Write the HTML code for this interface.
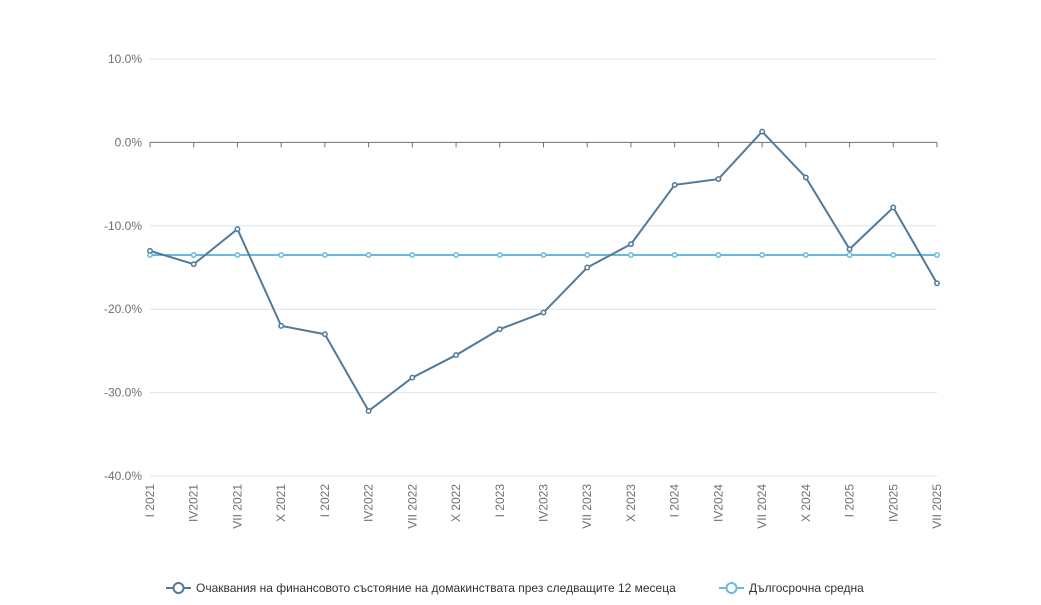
<!DOCTYPE html>
<html><head><meta charset="utf-8"><style>
body{margin:0;background:#fff;font-family:"Liberation Sans",sans-serif}
</style></head><body>
<svg id="chart" width="1041" height="600" xmlns="http://www.w3.org/2000/svg" font-family="Liberation Sans, sans-serif"></svg>
<script>
const categories=["I 2021","IV2021","VII 2021","X 2021","I 2022","IV2022","VII 2022","X 2022","I 2023","IV2023","VII 2023","X 2023","I 2024","IV2024","VII 2024","X 2024","I 2025","IV2025","VII 2025"];
const expectations=[-13.0,-14.6,-10.4,-22.0,-23.0,-32.2,-28.2,-25.5,-22.4,-20.4,-15.0,-12.2,-5.1,-4.4,1.3,-4.2,-12.8,-7.8,-16.9];
const longTermAvg=[-13.5,-13.5,-13.5,-13.5,-13.5,-13.5,-13.5,-13.5,-13.5,-13.5,-13.5,-13.5,-13.5,-13.5,-13.5,-13.5,-13.5,-13.5,-13.5];
const yTicks=[10,0,-10,-20,-30,-40];
const yTickLabels=["10.0%","0.0%","-10.0%","-20.0%","-30.0%","-40.0%"];
const svg=document.getElementById('chart');
const NS='http://www.w3.org/2000/svg';
const x0=150,x1=937,yTop=59,yBot=476,vMax=10,vMin=-40;
function xs(i){return x0+i*(x1-x0)/(categories.length-1);}
function ys(v){return yTop+(vMax-v)*(yBot-yTop)/(vMax-vMin);}
function mk(tag,attrs){const e=document.createElementNS(NS,tag);for(const k in attrs)e.setAttribute(k,attrs[k]);svg.appendChild(e);return e;}
yTicks.forEach((t,i)=>{
  if(t!==0){const g=mk('line',{x1:x0,x2:x1,y1:ys(t),y2:ys(t),stroke:'#e0e3ea','stroke-width':1});
  
  }
  const l=mk('text',{x:142,y:ys(t)+4,'text-anchor':'end','font-size':12,fill:'#6e7079'});
  l.textContent=yTickLabels[i];
  
  
});
const ax=mk('line',{x1:x0,x2:x1,y1:ys(0),y2:ys(0),stroke:'#6e7079','stroke-width':1});


categories.forEach((c,i)=>{
  const tk=mk('line',{x1:xs(i),x2:xs(i),y1:ys(0),y2:ys(0)+5,stroke:'#6e7079'});
  
  
  const t=mk('text',{transform:`translate(${xs(i)+4},484) rotate(-90)`,'text-anchor':'end','font-size':12,fill:'#6e7079'});
  t.textContent=c;
  
  
});
function series(vals,color,name){
  const p=mk('polyline',{points:vals.map((v,i)=>xs(i)+','+ys(v)).join(' '),fill:'none',stroke:color,'stroke-width':2});
  
  
  vals.forEach((v,i)=>{
    const c=mk('circle',{cx:xs(i),cy:ys(v),r:2.2,fill:'#fff',stroke:color,'stroke-width':1.5});
    
    
  });
}
series(longTermAvg,'#6ab9dd','long-term-average');
series(expectations,'#50799a','expectations');
function legend(x,color,label,name){
  const l=mk('line',{x1:x,x2:x+25,y1:588,y2:588,stroke:color,'stroke-width':2});
  
  
  const c=mk('circle',{cx:x+12.5,cy:588,r:5,fill:'#fff',stroke:color,'stroke-width':2});
  
  
  const t=mk('text',{x:x+30,y:592,'font-size':12,fill:'#333'});
  t.textContent=label;
  
  
}
legend(166,'#50799a','Очаквания на финансовото състояние на домакинствата през следващите 12 месеца','expectations');
legend(719,'#6ab9dd','Дългосрочна средна','long-term-average');
</script>
</body></html>
